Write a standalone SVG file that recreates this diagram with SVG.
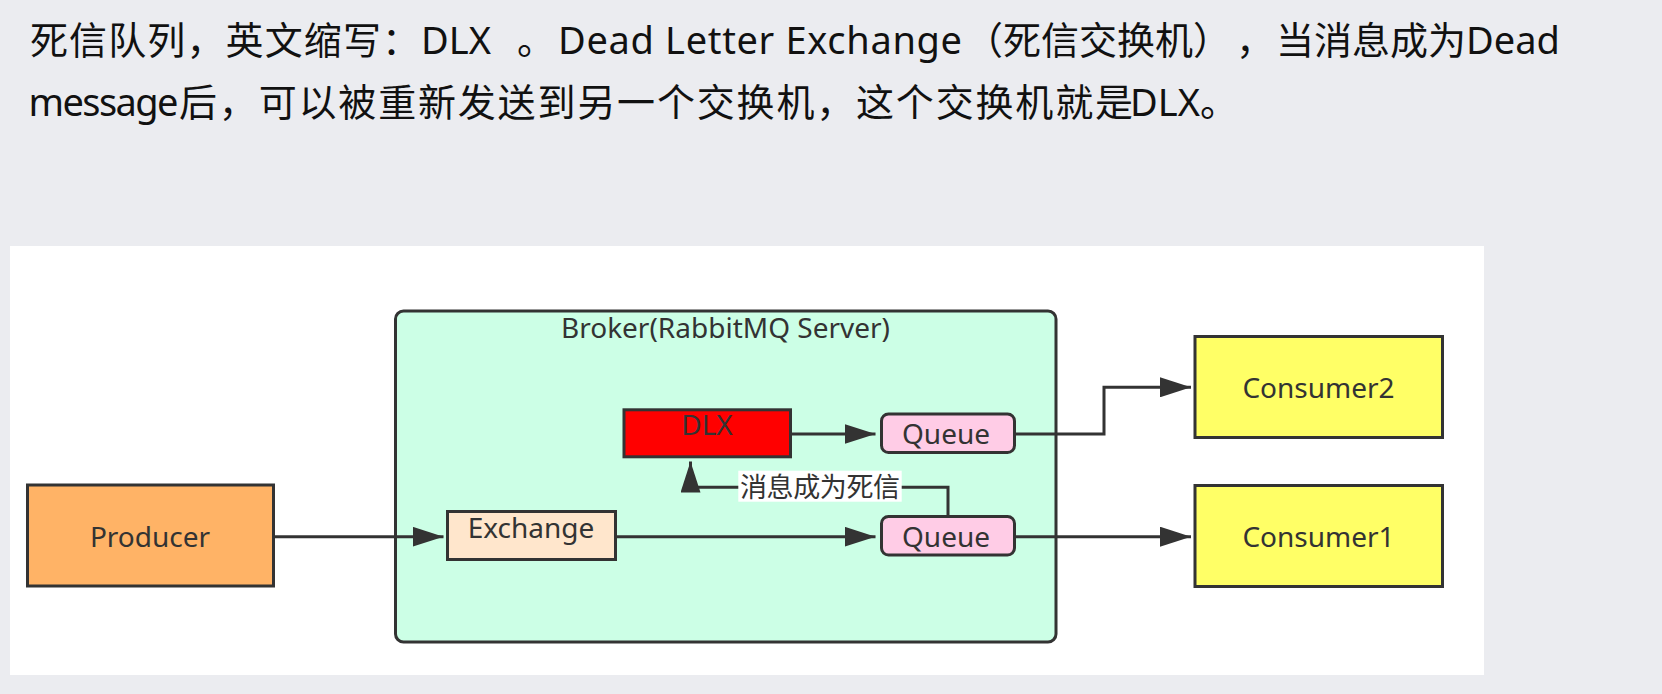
<svg xmlns="http://www.w3.org/2000/svg" width="1662" height="694" viewBox="0 0 1662 694">
<defs>
<style>
.hd{font-family:"Noto Sans","Noto Sans CJK SC",sans-serif;font-size:38px;fill:#111}
.lb{font-family:"Noto Sans","Noto Sans CJK SC",sans-serif;font-size:28px;fill:#333;text-anchor:middle}
.nd{stroke:#333;stroke-width:3}
.cn{fill:none;stroke:#333;stroke-width:3}
</style>
<marker id="arr" markerUnits="userSpaceOnUse" markerWidth="31" markerHeight="20" refX="31" refY="10" orient="auto">
<path d="M0,0 L31,10 L0,20 Z" fill="#333"/>
</marker>
</defs>
<rect x="0" y="0" width="1662" height="694" fill="#EBECF0"/>
<g id="header">
<text class="hd" y="54"><tspan x="30" textLength="390" lengthAdjust="spacing">死信队列，英文缩写：</tspan><tspan x="421">DLX</tspan><tspan x="517">。</tspan><tspan x="558" textLength="404" lengthAdjust="spacing">Dead Letter Exchange</tspan><tspan x="965">（死信交换机）</tspan><tspan x="1236">，</tspan><tspan x="1276">当消息成为</tspan><tspan x="1466">Dead</tspan></text>
<text class="hd" y="116"><tspan x="28.5" textLength="150" lengthAdjust="spacing">message</tspan><tspan x="179" textLength="954" lengthAdjust="spacing">后，可以被重新发送到另一个交换机，这个交换机就是</tspan><tspan x="1130">DLX。</tspan></text>
</g>
<rect x="10" y="246" width="1474" height="429" fill="#FFFFFF"/>
<g id="broker">
<rect class="nd" x="395.5" y="311" width="660.5" height="331" rx="8" fill="#CCFFE6"/>
<text class="lb" x="725.5" y="338.3">Broker(RabbitMQ Server)</text>
</g>
<g id="connectors">
<path class="cn" d="M275,536.7 H443.5" marker-end="url(#arr)"/>
<path class="cn" d="M617,536.7 H875.5" marker-end="url(#arr)"/>
<path class="cn" d="M792,434 H875.5" marker-end="url(#arr)"/>
<path class="cn" d="M1016,434 H1104 V387.3 H1191" marker-end="url(#arr)"/>
<path class="cn" d="M1016,536.7 H1191" marker-end="url(#arr)"/>
<path class="cn" d="M948,515 V487.3 H690.5 V461.5" marker-end="url(#arr)"/>
<rect x="738.3" y="470.7" width="163.4" height="31" fill="#FFFFFF"/>
<text x="820" y="497" font-family="'Noto Sans','Noto Sans CJK SC',sans-serif" font-size="27" fill="#333" text-anchor="middle" textLength="160" lengthAdjust="spacing">消息成为死信</text>
</g>
<g id="producer">
<rect class="nd" x="27.5" y="485" width="246" height="101" fill="#FFB366"/>
<text class="lb" x="150" y="546.7">Producer</text>
</g>
<g id="exchange">
<rect class="nd" x="447.5" y="511.5" width="168" height="48" fill="#FFE6CC"/>
<text class="lb" x="531" y="538.3">Exchange</text>
</g>
<g id="dlx">
<rect class="nd" x="624" y="409.8" width="166.5" height="47" fill="#FF0000"/>
<text class="lb" x="707" y="435.3">DLX</text>
</g>
<g id="queue-dlx">
<rect class="nd" x="881.5" y="414" width="133" height="38.5" rx="7" fill="#FFCCE6"/>
<text class="lb" x="946" y="444">Queue</text>
</g>
<g id="queue-main">
<rect class="nd" x="881.5" y="516.5" width="133" height="38.5" rx="7" fill="#FFCCE6"/>
<text class="lb" x="946" y="546.7">Queue</text>
</g>
<g id="consumer2">
<rect class="nd" x="1195" y="336.5" width="247.5" height="101" fill="#FFFF66"/>
<text class="lb" x="1318.5" y="398.3">Consumer2</text>
</g>
<g id="consumer1">
<rect class="nd" x="1195" y="485.5" width="247.5" height="101" fill="#FFFF66"/>
<text class="lb" x="1318.5" y="546.7">Consumer1</text>
</g>
</svg>
